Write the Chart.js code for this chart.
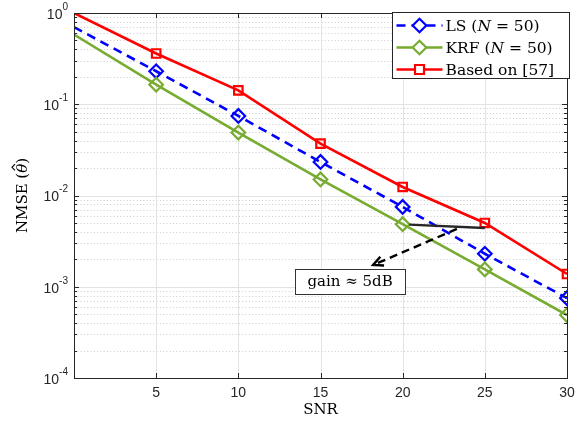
<!DOCTYPE html>
<html>
<head>
<meta charset="utf-8">
<script src="https://cdn.jsdelivr.net/npm/chart.js@4/dist/chart.umd.min.js"></script>
<style>
html,body{margin:0;padding:0;background:#fff;}
#wrap{width:577px;height:424px;}
</style>
</head>
<body>
<div id="wrap"><canvas id="c" width="577" height="424"></canvas></div>
<script>
// ---- data ----
const snr = [0, 5, 10, 15, 20, 25, 30];
const lsValues = [0.70, 0.23, 0.0745, 0.0233, 0.0075, 0.0023, 0.00075];
const krfValues = [0.58, 0.164, 0.049, 0.015, 0.00485, 0.00155, 0.00049];
const basedValues = [1.0, 0.36, 0.142, 0.037, 0.0124, 0.0050, 0.00138];
const seriesLabels = ['LS (N = 50)', 'KRF (N = 50)', 'Based on [57]'];
const xTicks = [5, 10, 15, 20, 25, 30];
const yDecades = [-4, -3, -2, -1, 0];
const xTitle = 'SNR';
const yTitleParts = ['NMSE (', 'θ', ')'];  // θ carries a hat: NMSE (θ̂)
// annotation
const gainLineX = [20.4, 25];
const gainLineY = [0.0048, 0.0044];
const arrowX = [23.3, 18.2];
const arrowY = [0.0043, 0.00173];
const gainText = 'gain ≈ 5dB';
const gainTextX = 16.8;
const gainTextY = 0.00115;

const SERIF = '"DejaVu Serif", "Liberation Serif", serif';
const SANS = '"Liberation Sans", Arial, sans-serif';
const AX = '#262626';

function pts(v){ return snr.map((x,i)=>({x:x, y:v[i]})); }

const datasets = [
  {label: seriesLabels[0], data: pts(lsValues), borderColor:'#0000ff', borderWidth:2.6, borderDash:[9,6],
   pointStyle:'rectRot', pointRadius: c=> c.dataIndex===0?0:6.8, pointBorderWidth:2.2, pointBackgroundColor:'rgba(0,0,0,0)', pointBorderColor:'#0000ff', order:3, mk:'diamond'},
  {label: seriesLabels[1], data: pts(krfValues), borderColor:'#77ac30', borderWidth:2.6,
   pointStyle:'rectRot', pointRadius: c=> c.dataIndex===0?0:6.8, pointBorderWidth:2.2, pointBackgroundColor:'rgba(0,0,0,0)', pointBorderColor:'#77ac30', order:2, mk:'diamond'},
  {label: seriesLabels[2], data: pts(basedValues), borderColor:'#ff0000', borderWidth:2.6,
   pointStyle:'rect', pointRadius: c=> c.dataIndex===0?0:6, pointBorderWidth:2.2, pointBackgroundColor:'rgba(0,0,0,0)', pointBorderColor:'#ff0000', order:1, mk:'square'}
];

function drawLabelParts(ctx, parts, x, y, size){
  let cx = x;
  for (const p of parts){
    ctx.font = (p.it ? 'italic ' : '') + size + 'px ' + SERIF;
    ctx.fillText(p.t, cx, y);
    cx += ctx.measureText(p.t).width;
  }
  return cx;
}
function splitLabel(s){
  const i = s.indexOf('N =');
  if (i < 0) return [{t:s}];
  return [{t:s.slice(0,i)},{t:'N',it:true},{t:s.slice(i+1)}];
}

const deco = {
  id:'deco',
  beforeDatasetsDraw(chart){
    const {ctx, chartArea:a, scales:{x,y}} = chart;
    ctx.save();
    ctx.strokeStyle = '#cccccc'; ctx.lineWidth = 1; ctx.setLineDash([1,2.3]);
    for (const d of yDecades.slice(0,-1)){
      for (let m=2;m<=9;m++){
        const py = Math.round(y.getPixelForValue(m*Math.pow(10,d)))+0.5;
        ctx.beginPath(); ctx.moveTo(a.left,py); ctx.lineTo(a.right,py); ctx.stroke();
      }
    }
    ctx.setLineDash([]);
    ctx.strokeStyle = '#e3e3e3';
    for (const d of yDecades){
      const py = Math.round(y.getPixelForValue(Math.pow(10,d)))+0.5;
      ctx.beginPath(); ctx.moveTo(a.left,py); ctx.lineTo(a.right,py); ctx.stroke();
    }
    for (const t of xTicks){
      const px = Math.round(x.getPixelForValue(t))+0.5;
      ctx.beginPath(); ctx.moveTo(px,a.top); ctx.lineTo(px,a.bottom); ctx.stroke();
    }
    ctx.restore();
  },
  afterDatasetsDraw(chart){
    const {ctx, chartArea:a, scales:{x,y}} = chart;
    ctx.save();
    ctx.strokeStyle = '#262626'; ctx.lineWidth = 2.4;
    ctx.beginPath();
    ctx.moveTo(x.getPixelForValue(gainLineX[0]), y.getPixelForValue(gainLineY[0]));
    ctx.lineTo(x.getPixelForValue(gainLineX[1]), y.getPixelForValue(gainLineY[1]));
    ctx.stroke();
    const x0=x.getPixelForValue(arrowX[0]), y0=y.getPixelForValue(arrowY[0]);
    const x1=x.getPixelForValue(arrowX[1]), y1=y.getPixelForValue(arrowY[1]);
    ctx.strokeStyle='#000'; ctx.lineWidth=2.4; ctx.setLineDash([8,5]);
    ctx.beginPath(); ctx.moveTo(x0,y0); ctx.lineTo(x1,y1); ctx.stroke();
    ctx.setLineDash([]);
    const ang = Math.atan2(y1-y0, x1-x0);
    const L=11, w=0.45;
    ctx.beginPath();
    ctx.moveTo(x1 - L*Math.cos(ang-w), y1 - L*Math.sin(ang-w));
    ctx.lineTo(x1,y1);
    ctx.lineTo(x1 - L*Math.cos(ang+w), y1 - L*Math.sin(ang+w));
    ctx.stroke();
    const tx=x.getPixelForValue(gainTextX), ty=y.getPixelForValue(gainTextY);
    const bw = 110, bh = 25;
    ctx.fillStyle='#fff'; ctx.fillRect(tx-bw/2, ty-bh/2, bw, bh);
    ctx.strokeStyle='#333'; ctx.lineWidth=1;
    ctx.strokeRect(Math.round(tx-bw/2)+0.5, Math.round(ty-bh/2)+0.5, bw, bh);
    ctx.fillStyle='#000'; ctx.textAlign='center'; ctx.textBaseline='middle';
    ctx.font = '15px '+SERIF;
    ctx.fillText(gainText, tx, ty+1);

    ctx.strokeStyle=AX; ctx.lineWidth=1;
    ctx.strokeRect(Math.round(a.left)+0.5, Math.round(a.top)+0.5, Math.round(a.right-a.left), Math.round(a.bottom-a.top));
    ctx.beginPath();
    for (const t of xTicks){
      const px=Math.round(x.getPixelForValue(t))+0.5;
      ctx.moveTo(px,a.bottom); ctx.lineTo(px,a.bottom-5);
      ctx.moveTo(px,a.top); ctx.lineTo(px,a.top+5);
    }
    for (const d of yDecades){
      for (let m=1;m<=9;m++){
        if (d===0 && m>1) continue;
        const py=Math.round(y.getPixelForValue(m*Math.pow(10,d)))+0.5;
        const len = m===1?5:3;
        ctx.moveTo(a.left,py); ctx.lineTo(a.left+len,py);
        ctx.moveTo(a.right,py); ctx.lineTo(a.right-len,py);
      }
    }
    ctx.stroke();

    ctx.fillStyle=AX;
    ctx.font='14px '+SANS; ctx.textAlign='center'; ctx.textBaseline='middle';
    for (const t of xTicks){
      ctx.fillText(String(t), x.getPixelForValue(t), a.bottom+15);
    }
    for (const d of yDecades){
      const py=y.getPixelForValue(Math.pow(10,d));
      ctx.font='10px '+SANS; ctx.textAlign='left';
      const e=String(d); const ew=ctx.measureText(e).width;
      const ex=a.left-6-ew;
      ctx.fillText(e, ex, py-6);
      ctx.font='14px '+SANS; ctx.textAlign='right';
      ctx.fillText('10', ex, py+2);
    }
    ctx.fillStyle='#000';
    ctx.font='15px '+SERIF; ctx.textAlign='center'; ctx.textBaseline='middle';
    ctx.fillText(xTitle, (a.left+a.right)/2, a.bottom+32);
    // y title with hat over theta
    ctx.save();
    ctx.translate(23,(a.top+a.bottom)/2);
    ctx.rotate(-Math.PI/2);
    const yp=[{t:yTitleParts[0]},{t:yTitleParts[1],it:true},{t:yTitleParts[2]}];
    const widths=yp.map(p=>{ctx.font=(p.it?'italic ':'')+'15px '+SERIF; return ctx.measureText(p.t).width;});
    const totw=widths.reduce((s,v)=>s+v,0);
    ctx.textAlign='left';
    drawLabelParts(ctx, yp, -totw/2, 0, 15);
    const thc = -totw/2 + widths[0] + widths[1]/2 + 1;
    ctx.strokeStyle='#000'; ctx.lineWidth=1.1;
    ctx.beginPath(); ctx.moveTo(thc-3.2,-8); ctx.lineTo(thc,-11); ctx.lineTo(thc+3.2,-8); ctx.stroke();
    ctx.restore();

    const lx=392.5, ly=12.5, lw=177, lh=66;
    ctx.fillStyle='#fff'; ctx.fillRect(lx,ly,lw,lh);
    ctx.strokeStyle=AX; ctx.lineWidth=1; ctx.strokeRect(lx,ly,lw,lh);
    chart.data.datasets.forEach((ds,i)=>{
      const ry = ly + 13 + i*22;
      ctx.strokeStyle=ds.borderColor; ctx.lineWidth=2.6;
      ctx.setLineDash(ds.borderDash||[]);
      ctx.beginPath(); ctx.moveTo(lx+4,ry); ctx.lineTo(lx+50,ry); ctx.stroke();
      ctx.setLineDash([]);
      ctx.lineWidth=2.2;
      const cx=lx+27;
      ctx.beginPath();
      if (ds.mk==='diamond'){
        const r=6.8;
        ctx.moveTo(cx,ry-r); ctx.lineTo(cx+r,ry); ctx.lineTo(cx,ry+r); ctx.lineTo(cx-r,ry); ctx.closePath();
      } else {
        const r=4.5;
        ctx.rect(cx-r,ry-r,2*r,2*r);
      }
      ctx.fillStyle='#fff'; ctx.fill(); ctx.stroke();
      ctx.fillStyle='#000'; ctx.textAlign='left'; ctx.textBaseline='middle';
      drawLabelParts(ctx, splitLabel(ds.label), lx+53, ry+1, 15.5);
    });
    ctx.restore();
  }
};

new Chart(document.getElementById('c'), {
  type:'line',
  data:{datasets},
  options:{
    responsive:false, animation:false,
    layout:{padding:{top:13,right:10,left:0,bottom:0}},
    plugins:{legend:{display:false}, tooltip:{enabled:false}},
    elements:{line:{tension:0}},
    scales:{
      x:{type:'linear', min:0, max:30, ticks:{display:false, stepSize:5}, grid:{display:false}, border:{display:false},
         afterFit(s){ s.height=46; s.paddingLeft=0; s.paddingRight=0; }},
      y:{type:'logarithmic', min:1e-4, max:1, ticks:{display:false}, grid:{display:false}, border:{display:false},
         afterFit(s){ s.width=74; s.paddingTop=0; s.paddingBottom=0; }}
    }
  },
  plugins:[deco]
});
</script>
</body>
</html>
